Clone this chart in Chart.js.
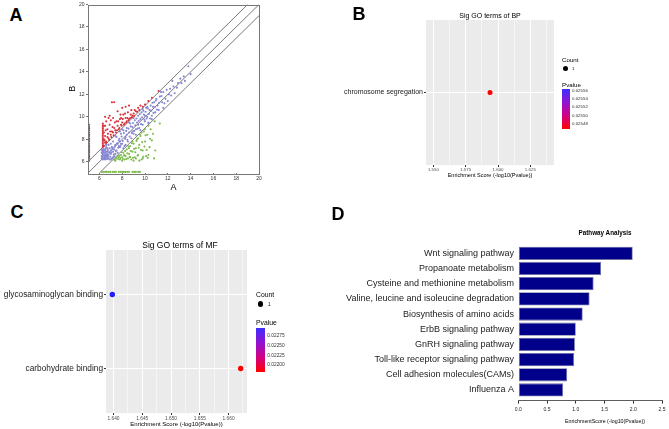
<!DOCTYPE html>
<html>
<head>
<meta charset="utf-8">
<script src="https://cdn.jsdelivr.net/npm/chart.js@4"></script>
<style>
body { margin: 0; background: #fff; }
#wrap { position: relative; width: 669px; height: 429px; overflow: hidden; font-family: "Liberation Sans", Arial, sans-serif; background: #fff; }
canvas { position: absolute; }
.c { position: absolute; transform: translate(-50%, -50%); white-space: nowrap; color: #000; }
.l { position: absolute; transform: translateY(-50%); white-space: nowrap; color: #000; }
.dot { position: absolute; border-radius: 50%; background: #000; }
.bar { position: absolute; background: linear-gradient(to bottom, #3d2eff 0%, #9412cf 35%, #d4007e 68%, #ff0000 100%); }
</style>
</head>
<body>
<div id="wrap">
  <canvas id="chartA" width="215" height="196" style="left:55px;top:0px"></canvas>
  <canvas id="chartB" width="329" height="196" style="left:340px;top:0px"></canvas>
  <canvas id="chartC" width="330" height="199" style="left:0px;top:230px"></canvas>
  <canvas id="chartD" width="329" height="204" style="left:340px;top:225px"></canvas>

  <div class="c" style="left:16px;top:15px;font:bold 18px 'Liberation Sans',Arial">A</div>
  <div class="c" style="left:359px;top:14px;font:bold 18px 'Liberation Sans',Arial">B</div>
  <div class="c" style="left:17px;top:212px;font:bold 18px 'Liberation Sans',Arial">C</div>
  <div class="c" style="left:338px;top:214px;font:bold 18px 'Liberation Sans',Arial">D</div>

  <div class="c" style="left:490px;top:15px;font-size:7px">Sig GO terms of BP</div>
  <div class="c" style="left:180px;top:245px;font-size:8.5px">Sig GO terms of MF</div>
  <div class="c" style="left:605px;top:232px;font-size:6.3px;font-weight:bold">Pathway Analysis</div>
  <div class="c" style="left:605px;top:421px;font-size:5.3px">EnrichmentScore (-log10(Pvalue))</div>

  <div id="legB"></div>
  <div id="legC"></div>
</div>
<script>
// panel A: expression scatter (A vs B)
const redPts = [
  [5.1,6.1],[5.1,6.3],[5.1,6.45],[5.1,6.6],[5.1,6.8],[5.1,6.95],[5.1,7.1],[5.1,7.3],[5.1,7.45],[5.1,7.6],
  [5.1,7.8],[5.1,7.95],[5.1,8.1],[5.1,8.3],[5.1,8.45],[5.1,8.6],[5.1,8.8],[5.1,8.95],[5.1,9.1],[5.1,9.3],
  [6.3,7.3],[6.3,7.6],[6.3,7.9],[6.3,8.2],[6.3,8.5],[6.3,8.8],[6.3,9.1],[6.3,9.4],[6.4,7.4],[6.4,8.0],
  [6.4,8.6],[6.5,7.7],[6.5,8.3],[6.5,10.0],[6.6,7.8],[6.7,8.9],[6.8,8.1],[6.9,9.3],[7.0,8.4],[7.1,11.3],
  [7.2,8.6],[7.3,11.3],[7.3,9.0],[7.4,8.8],[7.5,9.6],[7.6,9.2],[7.7,8.9],[7.8,9.8],[7.9,9.3],[8.0,9.5],
  [8.1,10.2],[8.2,9.4],[8.3,9.9],[8.4,9.6],[8.5,10.4],[8.6,11.0],[8.7,9.9],[8.8,10.6],[8.9,10.1],[9.0,10.3],
  [9.2,10.5],[9.4,10.8],[9.6,11.0],[9.5,10.6],[10.0,11.1],[11.2,12.3],[6.9,10.1],[7.6,10.5],[8.3,10.9],[6.6,9.6],
  [7.2,9.9],[8.0,10.8],[6.4,9.2],[6.7,8.2],[7.1,8.7],[7.9,9.9],[8.6,9.8],[9.1,10.6],
  [6.3,7.45],[6.3,7.75],[6.3,8.05],[6.3,8.35],[6.3,8.65],[6.3,8.95],[6.3,9.25],[6.35,7.45],[6.45,7.9],[6.55,8.8],
  [6.6,7.7],[6.75,8.5],[6.85,7.95],[6.95,8.7],[7.05,8.2],[7.15,9.1],[7.25,8.35],[7.35,9.5],[7.45,8.6],[7.55,8.8],
  [7.65,9.6],[7.75,9.0],[7.85,10.2],[7.95,9.2],[8.05,9.8],[8.15,9.3],[8.25,10.3],[8.35,9.5],[8.45,9.9],[8.55,9.7],
  [8.75,10.2],[8.85,9.95],[9.05,10.1],[9.3,10.45],[9.8,10.9],[10.3,11.4],[10.6,11.7],[7.0,9.7],[6.5,9.2],[6.8,9.9]
];
const bluePts = [
  [6.2,6.3],[6.3,6.6],[6.3,6.9],[6.3,7.1],[6.4,6.4],[6.4,6.8],[6.5,6.2],[6.5,7.0],[6.6,6.5],[6.6,7.3],
  [6.7,6.3],[6.7,6.9],[6.8,6.6],[6.8,7.5],[6.9,6.2],[6.9,7.2],[7.0,6.7],[7.0,7.6],[7.1,6.3],[7.1,7.3],
  [7.2,6.9],[7.2,7.8],[7.3,6.5],[7.4,7.5],[7.5,7.0],[7.5,8.2],[7.6,6.8],[7.7,7.9],[7.8,7.3],[7.9,8.5],
  [8.0,7.6],[8.1,8.8],[8.2,7.4],[8.3,8.2],[8.4,9.0],[8.5,7.8],[8.6,8.6],[8.7,9.4],[8.8,8.1],[8.9,9.1],
  [9.0,8.5],[9.1,9.7],[9.2,8.9],[9.3,9.5],[9.4,10.1],[9.5,9.0],[9.6,9.8],[9.7,10.4],[9.8,9.3],[9.9,10.2],
  [10.0,9.6],[10.1,10.8],[10.2,10.0],[10.3,9.5],[10.4,10.6],[10.5,11.0],[10.6,10.1],[10.7,10.9],[10.8,11.3],[10.9,10.4],
  [11.0,11.6],[11.1,11.0],[11.2,10.6],[11.3,11.8],[11.5,11.3],[11.6,12.2],[11.8,11.6],[11.9,12.4],[12.0,11.4],[12.2,12.5],
  [12.3,11.9],[12.5,12.7],[12.6,12.1],[12.9,13.0],[13.1,13.4],[13.4,13.6],[13.5,13.2],[13.8,14.5],[7.4,8.3],[8.0,8.9],
  [8.3,7.5],[9.0,9.9],[9.6,8.8],[10.2,10.9],[10.6,9.8],[11.4,12.2],[6.6,7.5],[7.8,8.7],[8.6,9.5],[9.8,10.7],
  [11.6,10.8],[12.4,13.2],[7.0,6.2],[8.1,7.2],[9.2,8.4],[10.3,9.4],[6.2,6.5],[6.2,6.8],[6.2,7.0],[6.3,6.2],
  [6.4,7.1],[6.5,6.6],[6.6,6.9],[6.7,7.2],[6.8,6.3],[6.9,6.8],[7.0,7.0],[7.2,6.4],[7.3,7.1],[7.4,6.7],
  [6.5,6.4],[6.7,6.6],[7.6,7.6],[7.7,7.4],[7.8,7.8],[7.9,7.6],[8.4,8.4],[8.9,8.7],[9.4,9.3],[10.0,10.1],
  [6.25,6.45],[6.25,6.75],[6.25,7.05],[6.35,6.35],[6.35,6.65],[6.35,6.95],[6.45,6.25],[6.45,6.55],[6.45,6.85],[6.55,6.35],
  [6.55,6.75],[6.55,7.15],[6.65,6.25],[6.65,6.65],[6.75,6.45],[6.75,7.05],[6.85,6.85],[6.95,6.45],[7.05,6.85],[7.15,7.15],
  [7.25,6.65],[7.35,7.35],[7.45,6.95],[7.55,7.65],[7.65,7.25],[7.75,8.05],[7.85,7.45],[7.95,8.25],[8.05,7.85],[8.15,8.55],
  [8.25,8.05],[8.35,8.75],[8.45,7.95],[8.55,8.95],[8.65,8.25],[8.75,9.15],[8.85,8.55],[8.95,9.45],[9.05,8.75],[9.15,9.25],
  [9.25,9.85],[9.35,8.95],[9.45,9.65],[9.55,10.25],[9.65,9.35],[9.75,9.95],[9.85,10.55],[9.95,9.75],[10.05,10.45],[10.15,9.85],
  [10.25,10.75],[10.35,10.25],[10.45,9.85],[10.55,10.55],[10.65,11.25],[10.75,10.35],[10.85,10.85],[10.95,11.45],[11.05,10.65],[11.25,11.25],
  [11.45,11.85],[11.7,11.2],[12.1,12.0],[12.8,12.6],[13.2,13.0],[14.0,13.8]
];
const greenPts = [
  [7.3,6.2],[7.5,6.3],[7.6,6.5],[7.8,6.2],[7.9,6.6],[8.0,6.4],[8.1,6.8],[8.2,6.2],[8.3,6.5],[8.4,7.1],
  [8.5,6.3],[8.6,6.7],[8.7,7.4],[8.8,6.2],[8.9,6.9],[9.0,7.6],[9.1,6.4],[9.2,7.2],[9.3,8.0],[9.4,6.6],
  [9.5,7.5],[9.6,8.3],[9.7,6.2],[9.8,7.0],[9.9,8.7],[10.0,7.8],[10.1,6.5],[10.2,8.4],[10.3,6.6],[10.4,7.3],
  [10.5,8.9],[10.6,7.9],[10.9,7.0],[10.8,6.3],[11.3,9.4],[7.4,6.1],[8.0,6.1],[9.0,6.1],[9.5,6.1],[8.6,7.2],
  [9.4,8.1],[10.0,8.9],[10.3,9.2],[9.7,8.6],[8.9,7.8],[7.7,6.4],[8.2,6.6],[8.7,6.4],[9.2,6.3],[9.8,6.3],
  [7.35,6.15],[7.45,6.35],[7.65,6.25],[7.75,6.55],[7.85,6.35],[7.95,6.85],[8.05,6.25],[8.15,6.55],[8.25,6.95],[8.35,6.25],
  [8.45,6.75],[8.55,7.35],[8.65,6.45],[8.75,6.95],[8.85,7.65],[8.95,6.35],[9.05,7.15],[9.15,6.85],[9.25,7.85],[9.35,6.55],
  [9.45,7.25],[9.55,8.45],[9.65,7.05],[9.75,7.75],[9.85,6.45],[9.95,7.35],[10.05,8.35],[10.15,7.05],[10.25,6.35],[10.45,8.05],
  [10.7,8.5],[10.85,9.6],
  [6.2,5.1],[6.35,5.1],[6.5,5.1],[6.65,5.1],[6.8,5.1],[6.95,5.1],[7.15,5.1],[7.3,5.1],[7.45,5.1],[7.7,5.1],
  [7.85,5.1],[8.0,5.1],[8.15,5.1],[8.3,5.1],[8.45,5.1],[8.6,5.1],[8.9,5.1],[9.05,5.1],[9.2,5.1],[9.4,5.1],[9.55,5.1]
];
const diagLines = [[[5,5],[20,20]], [[5,6],[19,20]], [[6,5],[20,19]]];
const ticksA = [6, 8, 10, 12, 14, 16, 18, 20];

// panel B: GO biological process
const bpTerms = ['chromosome segregation'];
const bpScores = [1.5938];
const bpColors = ['#ff0000'];
const bpTicks = [1.550, 1.575, 1.600, 1.625];
const bpLegend = ['0.02556', '0.02554', '0.02552', '0.02550', '0.02548'];

// panel C: GO molecular function (bottom to top)
const mfTerms = ['carbohydrate binding', 'glycosaminoglycan binding'];
const mfScores = [1.6621, 1.6398];
const mfColors = ['#ff0000', '#1f1fff'];
const mfTicks = [1.640, 1.645, 1.650, 1.655, 1.660];
const mfLegend = ['0.02275', '0.02250', '0.02225', '0.02200'];

// panel D: KEGG pathways
const pathways = ['Wnt signaling pathway', 'Propanoate metabolism', 'Cysteine and methionine metabolism',
  'Valine, leucine and isoleucine degradation', 'Biosynthesis of amino acids', 'ErbB signaling pathway',
  'GnRH signaling pathway', 'Toll-like receptor signaling pathway', 'Cell adhesion molecules(CAMs)', 'Influenza A'];
const pathScores = [1.99, 1.44, 1.31, 1.24, 1.12, 1.00, 0.985, 0.97, 0.85, 0.78];
const pathTicks = [0, 0.5, 1.0, 1.5, 2.0, 2.5];

Chart.defaults.font.family = '"Liberation Sans", Arial, sans-serif';
Chart.defaults.animation = false;
Chart.defaults.plugins.legend.display = false;
Chart.defaults.plugins.tooltip.enabled = false;

const panelBg = {
  id: 'panelBg',
  beforeDraw(c, args, o) {
    if (!o.color) return;
    const ca = c.chartArea;
    c.ctx.save();
    c.ctx.fillStyle = o.color;
    c.ctx.fillRect(ca.left, ca.top, ca.width, ca.height);
    c.ctx.restore();
  }
};
const frame = {
  id: 'frame',
  afterDraw(c, args, o) {
    if (!o.color) return;
    const ca = c.chartArea;
    c.ctx.save();
    c.ctx.strokeStyle = o.color;
    c.ctx.lineWidth = 1;
    c.ctx.strokeRect(Math.round(ca.left) + 0.5, Math.round(ca.top) + 0.5, Math.round(ca.width), Math.round(ca.height));
    c.ctx.restore();
  }
};

const toXY = arr => arr.map(p => ({x: p[0], y: p[1]}));
const near = (a, b) => Math.abs(a - b) < 1e-6;

// ---- A
new Chart(document.getElementById('chartA'), {
  type: 'scatter',
  data: {
    datasets: [
      {data: toXY(redPts), backgroundColor: '#d9303a', pointRadius: 1.05, borderWidth: 0},
      {data: toXY(bluePts), backgroundColor: '#8585d4', pointRadius: 1.05, borderWidth: 0},
      {data: toXY(greenPts), backgroundColor: '#7dba4c', pointRadius: 1.05, borderWidth: 0},
      ...diagLines.map(l => ({data: toXY(l), showLine: true, pointRadius: 0, borderColor: '#555', borderWidth: 0.8}))
    ]
  },
  options: {
    responsive: false,
    layout: {padding: {top: 3, right: 11, left: 0, bottom: 0}},
    plugins: {frame: {color: '#777'}},
    scales: {
      x: {
        type: 'linear', min: 5, max: 20, bounds: 'data',
        afterBuildTicks: s => { s.ticks = ticksA.map(v => ({value: v})); },
        afterFit: s => { s.height = 23; },
        grid: {drawOnChartArea: false, tickLength: 2, color: '#777'},
        border: {display: false},
        ticks: {font: {size: 5}, color: '#333', padding: 1, maxRotation: 0, autoSkip: false},
        title: {display: true, text: 'A', font: {size: 9}, color: '#000', padding: {top: 0, bottom: 2.6}}
      },
      y: {
        type: 'linear', min: 5, max: 20, bounds: 'data',
        afterBuildTicks: s => { s.ticks = ticksA.map(v => ({value: v})); },
        afterFit: s => { s.width = 33; },
        grid: {drawOnChartArea: false, tickLength: 2, color: '#777'},
        border: {display: false},
        ticks: {font: {size: 5}, color: '#333', padding: 1.5, autoSkip: false},
        title: {display: true, text: 'B', font: {size: 9}, color: '#000', padding: {top: 12.6, bottom: 0}}
      }
    }
  },
  plugins: [frame]
});

// ---- B and C: ggplot style dot plots
function goChart(id, o) {
  const n = o.terms.length;
  const minor = [];
  const step = o.ticks[1] - o.ticks[0];
  [o.ticks[0] - step / 2, ...o.ticks.map(t => t + step / 2)].forEach(v => {
    if (v > o.min && v < o.max) minor.push(v);
  });
  const allTicks = [...o.ticks, ...minor].sort((a, b) => a - b);
  const isMajor = v => o.ticks.some(t => near(t, v));
  return new Chart(document.getElementById(id), {
    type: 'scatter',
    data: {
      datasets: [{
        data: o.scores.map((v, i) => ({x: v, y: i + 1})),
        pointBackgroundColor: o.colors, pointRadius: o.r, pointBorderWidth: 0
      }]
    },
    options: {
      responsive: false,
      layout: {padding: o.pad},
      plugins: {panelBg: {color: '#ebebeb'}},
      scales: {
        x: {
          type: 'linear', min: o.min, max: o.max, bounds: 'data', offset: false,
          afterBuildTicks: s => { s.ticks = allTicks.map(v => ({value: v})); },
          afterFit: s => { s.height = o.xh; },
          grid: {
            color: '#ffffff',
            lineWidth: c => (c.tick && isMajor(c.tick.value)) ? 1 : 0.5,
            tickColor: c => (c.tick && isMajor(c.tick.value)) ? '#333' : 'rgba(0,0,0,0)',
            tickLength: 2
          },
          border: {display: false},
          ticks: {
            font: {size: o.tickFont}, color: '#4d4d4d', padding: o.tickPad, maxRotation: 0, autoSkip: false,
            callback: v => isMajor(v) ? v.toFixed(3) : ''
          },
          title: {display: true, text: 'Enrichment Score (-log10(Pvalue))', font: {size: o.titleFont}, color: '#000',
            padding: {top: 0, bottom: o.titlePad}}
        },
        y: {
          type: 'linear', min: 0.4, max: n + 0.6, bounds: 'data', offset: false,
          afterBuildTicks: s => { s.ticks = o.terms.map((t, i) => ({value: i + 1})); },
          afterFit: s => { s.width = o.yw; },
          grid: {color: '#ffffff', lineWidth: 1, tickColor: '#333', tickLength: 2},
          border: {display: false},
          ticks: {font: {size: o.catFont}, color: '#222', padding: 1, autoSkip: false,
            callback: v => o.terms[Math.round(v) - 1]}
        }
      }
    },
    plugins: [panelBg]
  });
}

goChart('chartB', {
  terms: bpTerms, scores: bpScores, colors: bpColors, ticks: bpTicks,
  min: 1.5443, max: 1.6433, r: 2.5,
  pad: {top: 20, right: 115, left: 0, bottom: 0}, xh: 31, yw: 86,
  tickFont: 4.4, tickPad: 0.5, titleFont: 5.5, titlePad: 17.7, catFont: 7.0
});
goChart('chartC', {
  terms: mfTerms, scores: mfScores, colors: mfColors, ticks: mfTicks,
  min: 1.6387, max: 1.6632, r: 2.7,
  pad: {top: 20, right: 83, left: 0, bottom: 0}, xh: 16, yw: 106,
  tickFont: 4.8, tickPad: 0.5, titleFont: 6, titlePad: 1.4, catFont: 8.3
});

// ---- D: horizontal bars
new Chart(document.getElementById('chartD'), {
  type: 'bar',
  data: {
    datasets: [{
      data: pathScores.map((v, i) => ({x: v, y: i})),
      backgroundColor: '#00008b', borderColor: '#6f6f9e', borderWidth: 0.8, borderSkipped: false,
      barPercentage: 0.87, categoryPercentage: 1
    }]
  },
  options: {
    indexAxis: 'y',
    responsive: false,
    layout: {padding: {top: 20.7, right: 5, left: 0, bottom: 0}},
    scales: {
      x: {
        type: 'linear', min: 0, max: 2.5, bounds: 'data', offset: false,
        afterBuildTicks: s => { s.ticks = pathTicks.map(v => ({value: v})); },
        afterFit: s => { s.height = 28.4; },
        grid: {drawOnChartArea: false, tickLength: 3, color: '#333', offset: false},
        border: {display: true, color: '#333', width: 0.8},
        ticks: {font: {size: 5}, color: '#222', padding: 3.5, maxRotation: 0, autoSkip: false,
          callback: v => v.toFixed(1)}
      },
      y: {
        type: 'linear', reverse: true, min: -0.5, max: 9.7, bounds: 'data', offset: false,
        afterBuildTicks: s => { s.ticks = pathways.map((p, i) => ({value: i})); },
        afterFit: s => { s.width = 178.3; },
        grid: {display: false, drawTicks: false, offset: false},
        border: {display: false},
        ticks: {font: {size: 9}, color: '#222', padding: 4.3, autoSkip: false,
          callback: v => pathways[Math.round(v)]}
      }
    }
  }
});

// ---- legends (Count + Pvalue colour bar)
function legend(el, o) {
  let h = '';
  h += `<div class="l" style="left:${o.x}px;top:${o.countY}px;font-size:${o.f}px">Count</div>`;
  h += `<div class="dot" style="left:${o.dotX - o.d / 2}px;top:${o.dotY - o.d / 2}px;width:${o.d}px;height:${o.d}px"></div>`;
  h += `<div class="l" style="left:${o.oneX}px;top:${o.dotY}px;font-size:${o.sf}px">1</div>`;
  h += `<div class="l" style="left:${o.x}px;top:${o.pY}px;font-size:${o.f}px">Pvalue</div>`;
  h += `<div class="bar" style="left:${o.x}px;top:${o.barTop}px;width:${o.barW}px;height:${o.barH}px"></div>`;
  o.labels.forEach((t, i) => {
    h += `<div class="l" style="left:${o.labX}px;top:${o.labY[i]}px;font-size:${o.sf}px;color:#333">${t}</div>`;
  });
  document.getElementById(el).innerHTML = h;
}
legend('legB', {x: 562, countY: 59, dotX: 565.7, dotY: 68, d: 5, oneX: 572, pY: 83.8, f: 6.2, sf: 4.4,
  barTop: 89.3, barW: 8.3, barH: 40, labX: 572, labY: [90.3, 98, 106.3, 114.7, 122.7], labels: bpLegend});
legend('legC', {x: 256, countY: 294, dotX: 260.7, dotY: 304, d: 5.5, oneX: 268, pY: 322, f: 6.8, sf: 4.8,
  barTop: 327.7, barW: 9.3, barH: 44.6, labX: 267.3, labY: [335, 344.7, 354.7, 364.3], labels: mfLegend});
</script>
</body>
</html>
